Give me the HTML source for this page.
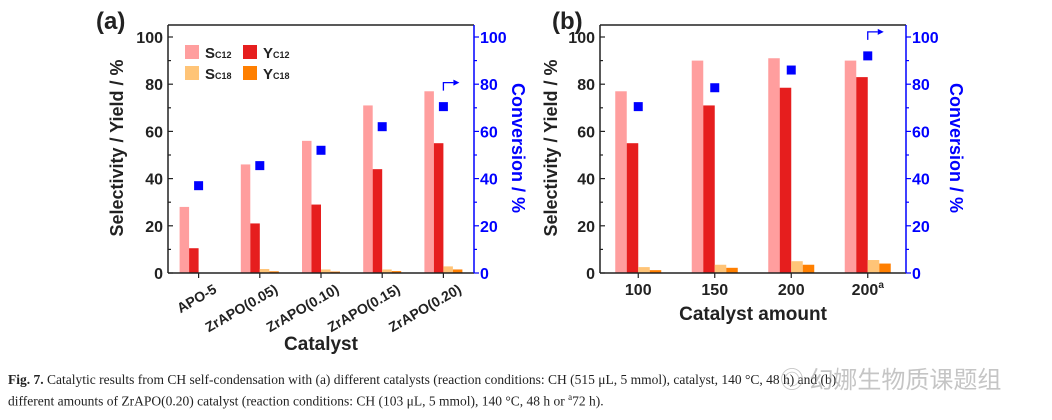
<!DOCTYPE html>
<html><head><meta charset="utf-8"><style>
html,body{margin:0;padding:0;background:#fff;}
body{width:1052px;height:420px;overflow:hidden;position:relative;}
svg{position:absolute;left:0;top:0;}
text{font-family:"Liberation Sans",Arial,sans-serif;}
.cap{position:absolute;left:8px;font-family:"Liberation Serif",serif;font-size:13.5px;color:#222;white-space:nowrap;}
</style></head><body>
<svg id="chart" width="1052" height="360"></svg>
<div class="cap" style="top:372px"><b>Fig. 7.</b> Catalytic results from CH self-condensation with (a) different catalysts (reaction conditions: CH (515 μL, 5 mmol), catalyst, 140 °C, 48 h) and (b)</div>
<div class="cap" style="top:392px">different amounts of ZrAPO(0.20) catalyst (reaction conditions: CH (103 μL, 5 mmol), 140 °C, 48 h or <sup style="font-size:9px">a</sup>72 h).</div>
<div style="position:absolute;left:780px;top:360px;font-family:'Noto Sans CJK SC',sans-serif;font-size:24px;color:rgba(150,150,150,0.55);">◎ 幻娜生物质课题组</div>
<script>
const catsA = ["APO-5","ZrAPO(0.05)","ZrAPO(0.10)","ZrAPO(0.15)","ZrAPO(0.20)"];
const sC12A = [28,46,56,71,77];
const yC12A = [10.5,21,29,44,55];
const sC18A = [0,1.7,1.5,1.5,2.8];
const yC18A = [0,0.7,0.6,0.8,1.5];
const convA = [37,45.5,52,62,70.5];
const catsB = ["100","150","200","200"];
const sC12B = [77,90,91,90];
const yC12B = [55,71,78.5,83];
const sC18B = [2.5,3.5,5,5.5];
const yC18B = [1.2,2.2,3.5,4];
const convB = [70.5,78.5,86,92];
const yTicks = [0,20,40,60,80,100];

const NS="http://www.w3.org/2000/svg";
const svg=document.getElementById('chart');
function mk(tag,attrs,parent,txt){const e=document.createElementNS(NS,tag);for(const k in attrs)e.setAttribute(k,attrs[k]);if(txt!==undefined)e.textContent=txt;(parent||svg).appendChild(e);return e;}
const COLORS=["#ff9e9e","#e61e1e","#ffc477","#ff7f00"];
const top0=25,Y0=273,Y100=37;
function yv(v){return Y0-(Y0-Y100)*v/100;}

function chart(opts){
  const {x0,x1,cats,series,conv,barW,first,rotate,letter,xtitle,xtitleY,sup}=opts;
  const g=mk('g',{});
  
  
  const n=cats.length;
  const step=(x1-x0)/n;
  const cx=i=>x0+step*(i+0.5);
  series.forEach((arr,s)=>{
    arr.forEach((v,i)=>{
      const r=mk('rect',{x:cx(i)+first+s*barW,y:yv(v),width:barW,height:Y0-yv(v),fill:COLORS[s]},g);
      
      
    });
  });
  conv.forEach((v,i)=>{
    const r=mk('rect',{x:cx(i)-4.5,y:yv(v)-4.5,width:9,height:9,fill:"#0000ff"},g);
    
    
  });
  mk('line',{x1:x0,y1:top0,x2:x1,y2:top0,stroke:"#222","stroke-width":1.5},g);
  mk('line',{x1:x0,y1:top0,x2:x0,y2:Y0,stroke:"#222","stroke-width":1.5},g);
  mk('line',{x1:x0,y1:Y0,x2:x1,y2:Y0,stroke:"#222","stroke-width":1.5},g);
  mk('line',{x1:x1,y1:top0,x2:x1,y2:Y0,stroke:"#0000ff","stroke-width":1.5},g);
  for(let v=0;v<=100;v+=10){
    const L=v%20===0?5:3;
    mk('line',{x1:x0,y1:yv(v),x2:x0+L,y2:yv(v),stroke:"#222","stroke-width":1.2},g);
    mk('line',{x1:x1,y1:yv(v),x2:x1+L,y2:yv(v),stroke:"#0000ff","stroke-width":1.2},g);
  }
  yTicks.forEach(v=>{
    const t=mk('text',{x:x0-5,y:yv(v)+6,"text-anchor":"end","font-size":16,"font-weight":"bold",fill:"#222"},g,v);
    
    
    const t2=mk('text',{x:x1+6,y:yv(v)+6,"text-anchor":"start","font-size":16,"font-weight":"bold",fill:"#0000ff"},g,v);
    
    
  });
  cats.forEach((c,i)=>{
    mk('line',{x1:cx(i),y1:Y0,x2:cx(i),y2:Y0+5,stroke:"#222","stroke-width":1.2},g);
    let t;
    if(rotate){
      const ax=cx(i)+19, ay=Y0+19;
      t=mk('text',{x:ax,y:ay,"text-anchor":"end","font-size":14,"font-weight":"bold",fill:"#222",transform:`rotate(-30 ${ax} ${ay})`},g,c);
    }else{
      t=mk('text',{x:cx(i),y:Y0+22,"text-anchor":"middle","font-size":16,"font-weight":"bold",fill:"#222"},g,c);
      if(sup&&i===n-1){mk('tspan',{"font-size":10,dy:-7},t,'a');}
    }
    
    
  });
  const ax=cx(n-1);
  const ay=yv(conv[n-1])-16;
  mk('path',{d:`M${ax} ${ay} V${ay-8} H${ax+10}`,stroke:"#0000ff",fill:"none","stroke-width":1.3},g);
  mk('path',{d:`M${ax+10} ${ay-11} L${ax+16} ${ay-8} L${ax+10} ${ay-5}Z`,fill:"#0000ff"},g);
  const yt=mk('text',{x:0,y:0,"text-anchor":"middle","font-size":18,"font-weight":"bold",fill:"#222",transform:`translate(${opts.ytX} 148) rotate(-90)`},g,"Selectivity / Yield / %");
   
  const rt=mk('text',{x:0,y:0,"text-anchor":"middle","font-size":18,"font-weight":"bold",fill:"#0000ff",transform:`translate(${opts.rtX} 148) rotate(90)`},g,"Conversion / %");
   
  const xt=mk('text',{x:(x0+x1)/2,y:xtitleY,"text-anchor":"middle","font-size":19,"font-weight":"bold",fill:"#222"},g,xtitle);
   
  const lt=mk('text',{x:opts.letterX,y:29,"font-size":24,"font-weight":"bold",fill:"#222"},g,letter);
   
  return g;
}
chart({name:'panel-a',x0:168,x1:474,cats:catsA,series:[sC12A,yC12A,sC18A,yC18A],conv:convA,barW:9.5,first:-19,rotate:true,letter:"(a)",letterX:96,xtitle:"Catalyst",xtitleY:350,ytX:123,rtX:512});
chart({name:'panel-b',x0:600,x1:906,cats:catsB,series:[sC12B,yC12B,sC18B,yC18B],conv:convB,barW:11.5,first:-23,rotate:false,letter:"(b)",letterX:552,xtitle:"Catalyst amount",xtitleY:320,ytX:557,rtX:950,sup:true});
const lg=mk('g',{});


const legItems=[["S","C12",0,185,52],["Y","C12",1,243,52],["S","C18",2,185,73],["Y","C18",3,243,73]];
legItems.forEach(([a,b,ci,x,y])=>{
  const r=mk('rect',{x:x,y:y-7,width:14,height:14,fill:COLORS[ci]},lg);
  
  
  const t=mk('text',{x:x+20,y:y+6,"font-size":15,"font-weight":"bold",fill:"#222"},lg,a);
  mk('tspan',{"font-size":9},t,b);
  
  
});
</script>
</body></html>
